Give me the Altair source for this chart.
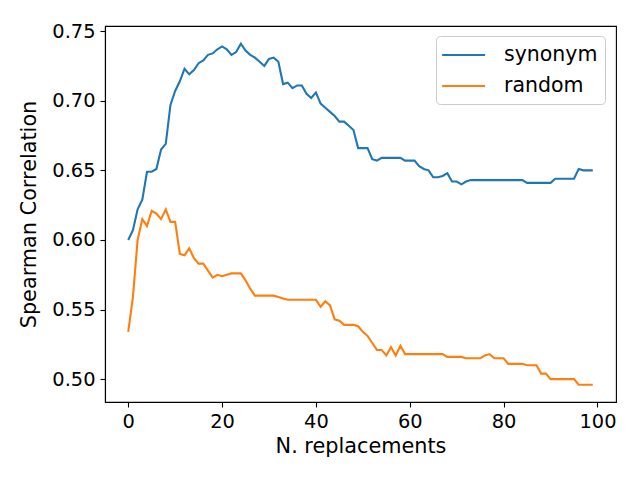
import altair as alt
import pandas as pd

n_replacements = list(range(100))

synonym = [
    0.600, 0.607, 0.622, 0.629, 0.649, 0.649, 0.651, 0.665, 0.669, 0.697,
    0.707, 0.714, 0.723, 0.719, 0.722, 0.727, 0.729, 0.733, 0.734, 0.737,
    0.739, 0.737, 0.733, 0.735, 0.741, 0.736, 0.733, 0.731, 0.728, 0.725,
    0.730, 0.731, 0.728, 0.712, 0.713, 0.709, 0.711, 0.711, 0.705, 0.702,
    0.706, 0.698, 0.695, 0.692, 0.689, 0.685, 0.685, 0.682, 0.679, 0.666,
    0.666, 0.666, 0.658, 0.657, 0.659, 0.659, 0.659, 0.659, 0.659, 0.657,
    0.657, 0.657, 0.653, 0.651, 0.650, 0.645, 0.645, 0.646, 0.648, 0.642,
    0.642, 0.640, 0.642, 0.643, 0.643, 0.643, 0.643, 0.643, 0.643, 0.643,
    0.643, 0.643, 0.643, 0.643, 0.643, 0.641, 0.641, 0.641, 0.641, 0.641,
    0.641, 0.644, 0.644, 0.644, 0.644, 0.644, 0.651, 0.650, 0.650, 0.650,
]

random_vals = [
    0.534, 0.559, 0.600, 0.615, 0.610, 0.621, 0.619, 0.615, 0.622, 0.613,
    0.613, 0.590, 0.589, 0.594, 0.587, 0.583, 0.583, 0.578, 0.573, 0.575,
    0.574, 0.575, 0.576, 0.576, 0.576, 0.571, 0.565, 0.560, 0.560, 0.560,
    0.560, 0.560, 0.559, 0.558, 0.557, 0.557, 0.557, 0.557, 0.557, 0.557,
    0.557, 0.552, 0.556, 0.553, 0.543, 0.542, 0.539, 0.539, 0.539, 0.538,
    0.534, 0.531, 0.526, 0.521, 0.521, 0.517, 0.523, 0.517, 0.524, 0.518,
    0.518, 0.518, 0.518, 0.518, 0.518, 0.518, 0.518, 0.518, 0.516, 0.516,
    0.516, 0.516, 0.515, 0.515, 0.515, 0.515, 0.517, 0.518, 0.515, 0.515,
    0.515, 0.511, 0.511, 0.511, 0.511, 0.510, 0.510, 0.510, 0.504, 0.504,
    0.500, 0.500, 0.500, 0.500, 0.500, 0.500, 0.496, 0.496, 0.496, 0.496,
]

series_names = ["synonym", "random"]
series_colors = ["#1f77b4", "#ff7f0e"]
x_ticks = [0, 20, 40, 60, 80, 100]
y_ticks = [0.50, 0.55, 0.60, 0.65, 0.70, 0.75]

df = pd.concat([
    pd.DataFrame({"x": n_replacements, "value": synonym, "series": "synonym"}),
    pd.DataFrame({"x": n_replacements, "value": random_vals, "series": "random"}),
])

FONT = "DejaVu Sans"

chart = alt.Chart(df).mark_line(strokeWidth=2.1).encode(
    x=alt.X("x:Q",
            scale=alt.Scale(domain=[-4.95, 103.95], nice=False, zero=False),
            axis=alt.Axis(values=x_ticks, title="N. replacements", format="d",
                          titlePadding=6)),
    y=alt.Y("value:Q",
            scale=alt.Scale(domain=[0.4836, 0.7537], nice=False, zero=False),
            axis=alt.Axis(values=y_ticks, title="Spearman Correlation", format=".2f",
                          titlePadding=12)),
    color=alt.Color("series:N",
                    scale=alt.Scale(domain=series_names, range=series_colors),
                    legend=alt.Legend(title=None, orient="none", legendX=331, legendY=10,
                                      symbolType="M-1.2,0L2.8,0", symbolSize=462,
                                      symbolStrokeWidth=2.1, labelOffset=37,
                                      labelFont=FONT, labelFontSize=20.5, labelColor="black",
                                      padding=7, rowPadding=8,
                                      fillColor="rgba(255,255,255,0.8)",
                                      strokeColor="#cccccc", cornerRadius=4)),
    order="x:Q",
).properties(
    width=511, height=376,
    padding={"left": 97, "top": 18, "right": 16, "bottom": 70},
    autosize="none",
).configure_view(
    stroke="black", strokeWidth=1.1
).configure_axis(
    grid=False, domainColor="black", domainWidth=1.1,
    tickColor="black", tickWidth=1.1, tickSize=5, labelPadding=5,
    labelFont=FONT, labelFontSize=19.4, labelColor="black",
    titleFont=FONT, titleFontSize=20.8, titleFontWeight="normal", titleColor="black",
)

chart.save("out.html", embed_options={"renderer": "svg", "actions": False})
